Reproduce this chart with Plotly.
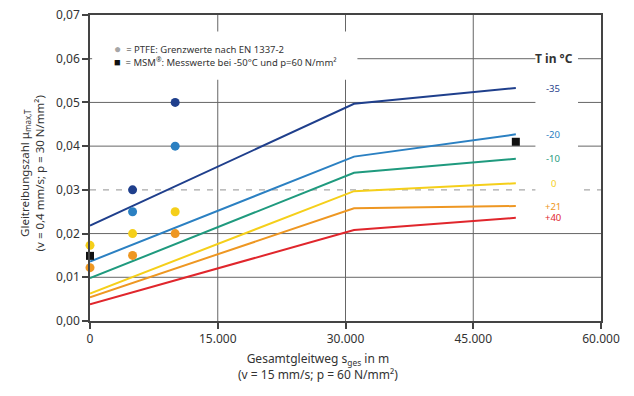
import plotly.graph_objects as go

# ---- data ----
distance_m = [0, 31000, 50000]
mu_m35 = [0.0218, 0.0497, 0.0533]
mu_m20 = [0.0136, 0.0376, 0.0427]
mu_m10 = [0.0098, 0.0339, 0.0371]
mu_0 = [0.0063, 0.0297, 0.0315]
mu_p21 = [0.0054, 0.0258, 0.0263]
mu_p40 = [0.0038, 0.0208, 0.0236]

temp_labels = ["-35", "-20", "-10", "0", "+21", "+40"]
series = [mu_m35, mu_m20, mu_m10, mu_0, mu_p21, mu_p40]
colors = ["#1f3f8c", "#2b80c2", "#1f9a7e", "#f5cf1a", "#ee9722", "#e0262c"]

# PTFE limit values (EN 1337-2), colour index refers to temperature
ptfe_x = [0, 0, 5000, 5000, 5000, 5000, 10000, 10000, 10000, 10000]
ptfe_y = [0.0173, 0.0122, 0.030, 0.025, 0.020, 0.015, 0.050, 0.040, 0.025, 0.020]
ptfe_temp = [3, 4, 0, 1, 3, 4, 0, 1, 3, 4]

# MSM measured values at -50 °C
msm_x = [0, 50000]
msm_y = [0.0149, 0.041]

x_ticks = [0, 15000, 30000, 45000, 60000]
y_ticks = [0.00, 0.01, 0.02, 0.03, 0.04, 0.05, 0.06, 0.07]
y_reference = 0.03   # dashed reference line

FONT = "Noto Sans"
GRID = "#666666"
x_lo, x_hi = x_ticks[0], x_ticks[-1]
y_lo, y_hi = y_ticks[0], y_ticks[-1]

fig = go.Figure()

# grid lines, derived from the tick lists
for yt in y_ticks[1:-1]:
    if abs(yt - y_reference) < 1e-9:
        continue
    fig.add_trace(go.Scatter(x=[x_lo, x_hi], y=[yt, yt], mode="lines",
                             line=dict(color=GRID, width=1), hoverinfo="skip", showlegend=False))
for xt in x_ticks[1:-1]:
    fig.add_trace(go.Scatter(x=[xt, xt], y=[y_lo, y_hi], mode="lines",
                             line=dict(color=GRID, width=1), hoverinfo="skip", showlegend=False))
fig.add_trace(go.Scatter(x=[x_lo, x_hi], y=[y_reference, y_reference], mode="lines",
                         line=dict(color="#a8a8a8", width=1.2, dash="6px,7px"),
                         hoverinfo="skip", showlegend=False))

for ys, c, lab in zip(series, colors, temp_labels):
    fig.add_trace(go.Scatter(x=distance_m, y=ys, mode="lines",
                             line=dict(color=c, width=2), name=lab,
                             showlegend=False, hoverinfo="skip"))

fig.add_trace(go.Scatter(x=ptfe_x, y=ptfe_y, mode="markers",
                         marker=dict(color=[colors[i] for i in ptfe_temp], size=9),
                         cliponaxis=False, showlegend=False))
fig.add_trace(go.Scatter(x=msm_x, y=msm_y, mode="markers",
                         marker=dict(color="#111111", size=8, symbol="square"),
                         cliponaxis=False, showlegend=False))

shapes = [
    # white boxes behind legend text and temperature labels (no data there)
    dict(type="rect", xref="x", x0=250, x1=31400, yref="y", y0=0.0552, y1=0.0662,
         fillcolor="white", line=dict(width=0), layer="above"),
    dict(type="rect", xref="x", x0=52300, x1=57300, yref="y", y0=0.022, y1=0.0635,
         fillcolor="white", line=dict(width=0), layer="above"),
]

annotations = []
for ys, c, lab in zip(series, colors, temp_labels):
    annotations.append(dict(x=54400, y=ys[-1], xref="x", yref="y", text=lab,
                            showarrow=False, font=dict(family=FONT, size=9.5, color=c)))
annotations.append(dict(x=54500, y=0.0601, xref="x", yref="y", text="<b>T in °C</b>",
                        showarrow=False, font=dict(family=FONT, size=12, color="#333")))
annotations.append(dict(x=2600, y=0.0624, xref="x", yref="y", xanchor="left", yanchor="middle",
                        text="<span style='color:#a6a6a6;font-size:12px'>●</span>  = PTFE: Grenzwerte nach EN 1337-2",
                        showarrow=False, font=dict(family=FONT, size=9.5, color="#333")))
annotations.append(dict(x=2600, y=0.0594, xref="x", yref="y", xanchor="left", yanchor="middle",
                        text="<span style='color:#111;font-size:11px'>■</span>  = MSM<sup>®</sup>: Messwerte bei -50°C und p=60 N/mm²",
                        showarrow=False, font=dict(family=FONT, size=9.5, color="#333")))
annotations.append(dict(x=-0.1145, y=0.484, xref="paper", yref="paper", textangle=-90,
                        xanchor="center", yanchor="middle",
                        text="Gleitreibungszahl μ<sub>max,T</sub><br>(v = 0,4 mm/s; p = 30 N/mm²)",
                        showarrow=False, font=dict(family=FONT, size=11.5, color="#333")))
annotations.append(dict(x=0.446, y=-0.15, xref="paper", yref="paper",
                        xanchor="center", yanchor="middle",
                        text="Gesamtgleitweg s<sub>ges</sub> in m<br>(v = 15 mm/s; p = 60 N/mm²)",
                        showarrow=False, font=dict(family=FONT, size=12, color="#333")))

axis_common = dict(showline=True, linecolor="#444", linewidth=1.5, mirror=True,
                   showgrid=False, zeroline=False,
                   ticks="outside", ticklen=6, tickcolor="#444", tickwidth=1.5,
                   automargin=False,
                   tickfont=dict(family=FONT, size=12, color="#333"))

fig.update_layout(
    xaxis=dict(range=[x_lo, x_hi], tickvals=x_ticks, tickformat=",.0f", **axis_common),
    yaxis=dict(range=[y_lo, y_hi], tickvals=y_ticks, tickformat=".2f", **axis_common),
)

fig.update_layout(width=634, height=396, margin=dict(l=90, r=33, t=15, b=75),
                  plot_bgcolor="white", paper_bgcolor="white", separators=",.",
                  shapes=shapes, annotations=annotations, showlegend=False)

fig.write_html("out.html", config={"displayModeBar": False, "displaylogo": False},
               post_script="document.body.style.margin='0';document.body.style.overflow='hidden';")
